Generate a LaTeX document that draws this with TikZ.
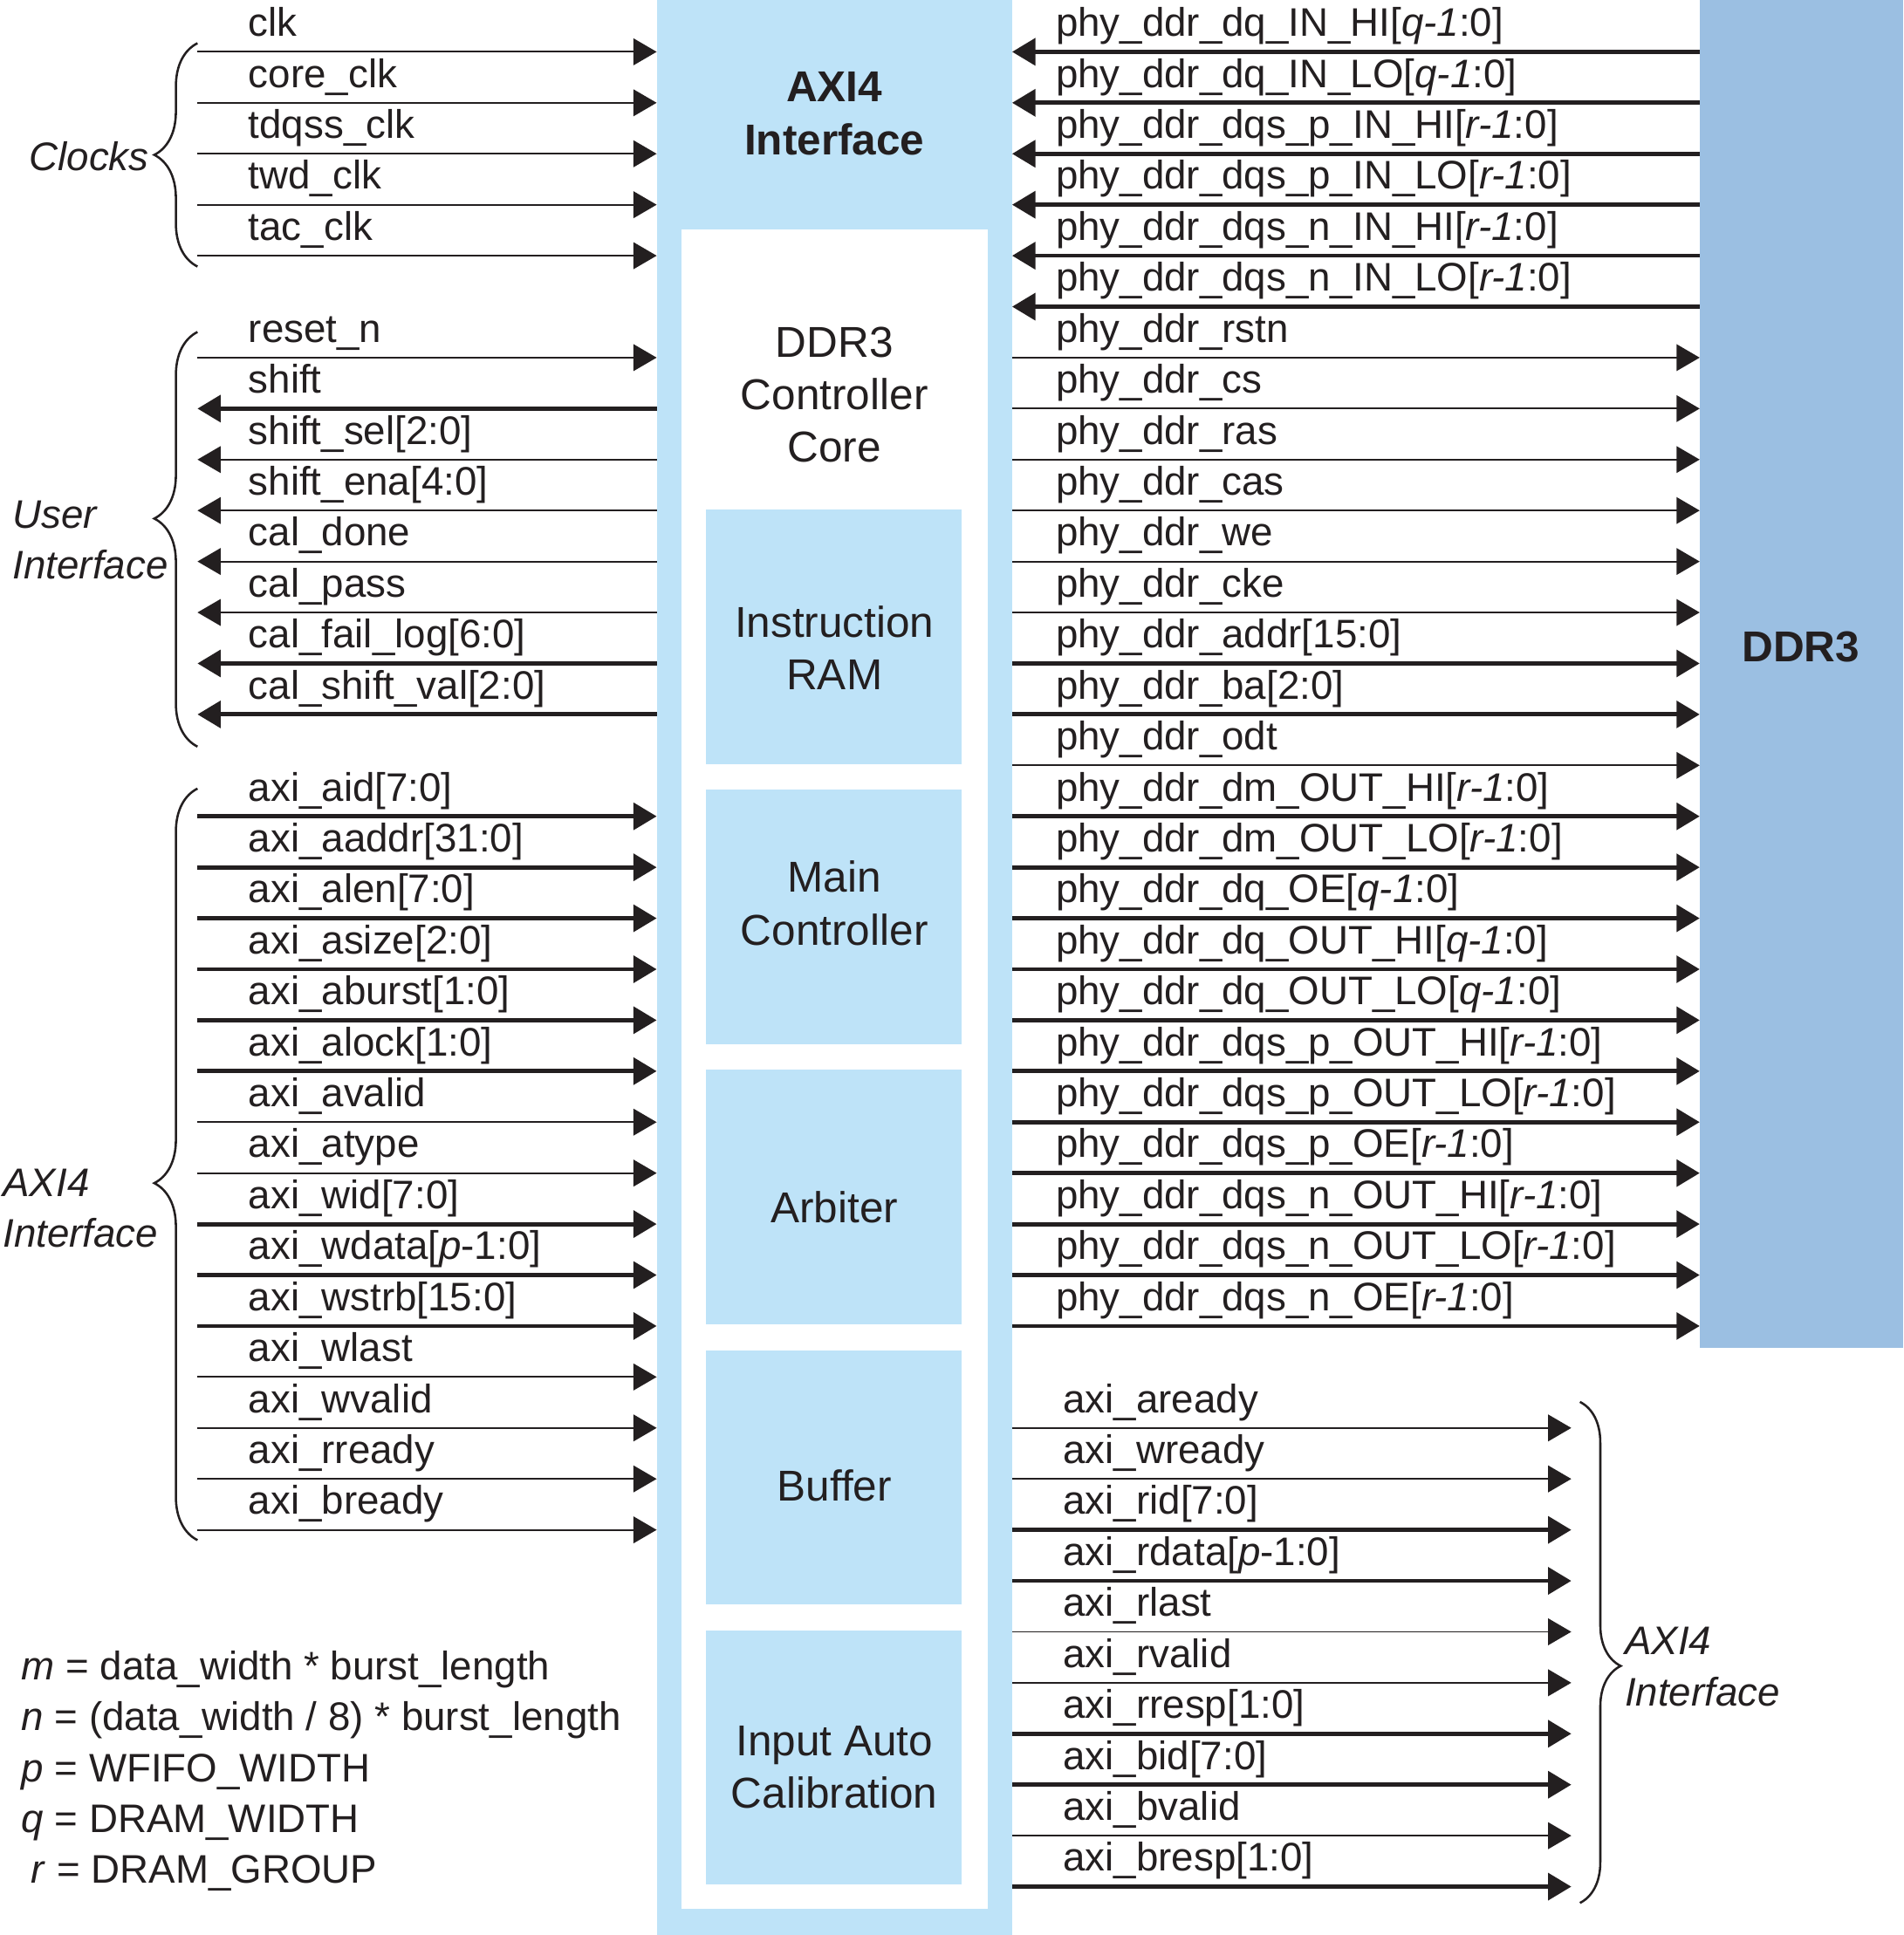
\documentclass[tikz,border=0pt]{standalone}
\usepackage{fontspec}
\setmainfont{Liberation Sans}
\usetikzlibrary{positioning,arrows.meta,decorations.pathreplacing}
\definecolor{paleblue}{RGB}{190,227,248}
\definecolor{ddrblue}{RGB}{155,191,226}
\definecolor{ink}{RGB}{35,31,32}

\begin{document}
\begin{tikzpicture}[x=0.5pt,y=-0.5pt,
  sig/.style={draw=ink,line width=0.65pt,-{Triangle[length=9.4pt,width=10.8pt]}},
  bus/.style={sig,line width=1.7pt},
  lbl/.style={anchor=base west,inner sep=0pt,text=ink,font=\fontsize{16.15}{20.65}\selectfont},
  grp/.style={inner sep=0pt,text=ink,align=left,font=\fontsize{16.15}{20.65}\selectfont\itshape},
  brc/.style={draw=ink,line width=0.9pt,decorate},
  blk/.style={fill=paleblue,inner sep=0pt,outer sep=0pt,minimum width=103.5pt,minimum height=103pt},
  blktxt/.style={text=ink,align=center,font=\fontsize{17.5}{21.5}\selectfont}]
\useasboundingbox (0,0) rectangle (1542,1568);
% ---- controller: pale blue frame, white core, five inner blocks ----
\node[blk,minimum width=144pt,minimum height=784pt] (ctrl) at (676,784) {};
\node[fill=white,inner sep=0pt,minimum width=124pt,minimum height=680.5pt] (core) at (676,866.5) {};
\node[blktxt,font=\fontsize{17.5}{21.5}\selectfont\bfseries] (axi) at (676,92) {AXI4\\Interface};
\node[blktxt,font=\fontsize{17.5}{21.25}\selectfont] (ctitle) at (676,320) {DDR3\\Controller\\Core};
\node[blk] (iram) at (675.5,516) {};
\node[blk,below=10.5pt of iram] (mainc) {};
\node[blk,below=10.5pt of mainc] (arb) {};
\node[blk,below=10.5pt of arb] (buf) {};
\node[blk,below=10.5pt of buf] (iac) {};
\node[blktxt] (iramtxt) at (676,525) {Instruction\\RAM};
\node[blktxt] (mainctxt) at (676,732) {Main\\Controller};
\node[blktxt] (arbtxt) at (676,978) {Arbiter};
\node[blktxt] (buftxt) at (676,1204) {Buffer};
\node[blktxt] (iactxt) at (676,1432) {Input Auto\\Calibration};
% ---- DDR3 memory ----
\node[fill=ddrblue,inner sep=0pt,outer sep=0pt,minimum width=82.5pt,minimum height=546pt] (ddr) at (1459.5,546) {};
\node[text=ink,font=\fontsize{17.5}{21}\selectfont\bfseries] (ddrlbl) at (1459,524) {DDR3};
% ---- left side, into the controller ----
\foreach \k/\txt/\sty in {0/clk/sig,1/core\_clk/sig,2/tdqss\_clk/sig,3/twd\_clk/sig,4/tac\_clk/sig,
  6/reset\_n/sig,15/axi\_aid[7:0]/bus,16/axi\_aaddr[31:0]/bus,17/axi\_alen[7:0]/bus,
  18/axi\_asize[2:0]/bus,19/axi\_aburst[1:0]/bus,20/axi\_alock[1:0]/bus,21/axi\_avalid/sig,
  22/axi\_atype/sig,23/axi\_wid[7:0]/bus,24/axi\_wdata[\textit{p}-1:0]/bus,25/axi\_wstrb[15:0]/bus,
  26/axi\_wlast/sig,27/axi\_wvalid/sig,28/axi\_rready/sig,29/axi\_bready/sig}{
  \coordinate (L\k) at (160,{42+41.3*\k});
  \node[lbl] (ll\k) at (201,{29.5+41.3*\k}) {\txt};
  \draw[\sty] (L\k) -- (L\k -| ctrl.west);
}
% ---- left side, out of the controller ----
\foreach \k/\txt/\sty in {7/shift/bus,8/shift\_sel[2:0]/sig,9/shift\_ena[4:0]/sig,10/cal\_done/sig,
  11/cal\_pass/sig,12/cal\_fail\_log[6:0]/bus,13/cal\_shift\_val[2:0]/bus}{
  \coordinate (L\k) at (160,{42+41.3*\k});
  \node[lbl] (ll\k) at (201,{29.5+41.3*\k}) {\txt};
  \draw[\sty] (L\k -| ctrl.west) -- (L\k);
}
% ---- right side, from DDR3 ----
\foreach \k/\txt in {0/phy\_ddr\_dq\_IN\_HI[\textit{q-1}:0],1/phy\_ddr\_dq\_IN\_LO[\textit{q-1}:0],
  2/phy\_ddr\_dqs\_p\_IN\_HI[\textit{r-1}:0],3/phy\_ddr\_dqs\_p\_IN\_LO[\textit{r-1}:0],
  4/phy\_ddr\_dqs\_n\_IN\_HI[\textit{r-1}:0],5/phy\_ddr\_dqs\_n\_IN\_LO[\textit{r-1}:0]}{
  \coordinate (R\k) at (1273,{42+41.3*\k});
  \node[lbl] (rl\k) at (855,{29.5+41.3*\k}) {\txt};
  \draw[bus] (R\k -| ddr.west) -- (R\k -| ctrl.east);
}
% ---- right side, to DDR3 ----
\foreach \k/\txt/\sty in {6/phy\_ddr\_rstn/sig,7/phy\_ddr\_cs/sig,8/phy\_ddr\_ras/sig,9/phy\_ddr\_cas/sig,
  10/phy\_ddr\_we/sig,11/phy\_ddr\_cke/sig,12/phy\_ddr\_addr[15:0]/bus,13/phy\_ddr\_ba[2:0]/bus,
  14/phy\_ddr\_odt/sig,15/phy\_ddr\_dm\_OUT\_HI[\textit{r-1}:0]/bus,16/phy\_ddr\_dm\_OUT\_LO[\textit{r-1}:0]/bus,
  17/phy\_ddr\_dq\_OE[\textit{q-1}:0]/bus,18/phy\_ddr\_dq\_OUT\_HI[\textit{q-1}:0]/bus,
  19/phy\_ddr\_dq\_OUT\_LO[\textit{q-1}:0]/bus,20/phy\_ddr\_dqs\_p\_OUT\_HI[\textit{r-1}:0]/bus,
  21/phy\_ddr\_dqs\_p\_OUT\_LO[\textit{r-1}:0]/bus,22/phy\_ddr\_dqs\_p\_OE[\textit{r-1}:0]/bus,
  23/phy\_ddr\_dqs\_n\_OUT\_HI[\textit{r-1}:0]/bus,24/phy\_ddr\_dqs\_n\_OUT\_LO[\textit{r-1}:0]/bus,
  25/phy\_ddr\_dqs\_n\_OE[\textit{r-1}:0]/bus}{
  \coordinate (R\k) at (1273,{42+41.3*\k});
  \node[lbl] (rl\k) at (855,{29.5+41.3*\k}) {\txt};
  \draw[\sty] (R\k -| ctrl.east) -- (R\k -| ddr.west);
}
% ---- right side, AXI4 responses ----
\foreach \k/\txt/\sty in {27/axi\_aready/sig,28/axi\_wready/sig,29/axi\_rid[7:0]/bus,
  30/axi\_rdata[\textit{p}-1:0]/bus,31/axi\_rlast/sig,32/axi\_rvalid/sig,33/axi\_rresp[1:0]/bus,
  34/axi\_bid[7:0]/bus,35/axi\_bvalid/sig,36/axi\_bresp[1:0]/bus}{
  \coordinate (R\k) at (1273,{42+41.3*\k});
  \node[lbl] (rl\k) at (861,{29.5+41.3*\k}) {\txt};
  \draw[\sty] (R\k -| ctrl.east) -- (R\k);
}
% ---- braces and group names ----
\draw[brc,decoration={brace,amplitude=17.5pt,aspect=0.5}] (160,216) -- (160,35);
\draw[brc,decoration={brace,amplitude=17.5pt,aspect=0.55}] (160,605) -- (160,269);
\draw[brc,decoration={brace,amplitude=17.5pt,aspect=0.475}] (160,1248) -- (160,639);
\draw[brc,decoration={brace,amplitude=16.5pt,aspect=0.527}] (1280,1136) -- (1280,1542);
\node[grp,anchor=base east] (gclk) at (121,138) {Clocks};
\node[grp,anchor=west] (gusr) at (10,437.5) {User\\Interface};
\node[grp,anchor=west] (gaxil) at (2,979) {AXI4\\Interface};
\node[grp,anchor=west] (gaxir) at (1316,1350.5) {AXI4\\Interface};
% ---- legend ----
\node[lbl] (leg1) at (17,1361) {\textit{m} = data\_width * burst\_length};
\node[lbl] (leg2) at (17,1402.3) {\textit{n} = (data\_width / 8) * burst\_length};
\node[lbl] (leg3) at (17,1443.6) {\textit{p} = WFIFO\_WIDTH};
\node[lbl] (leg4) at (17,1484.9) {\textit{q} = DRAM\_WIDTH};
\node[lbl] (leg5) at (25,1526.2) {\textit{r} = DRAM\_GROUP};
\end{tikzpicture}
\end{document}
